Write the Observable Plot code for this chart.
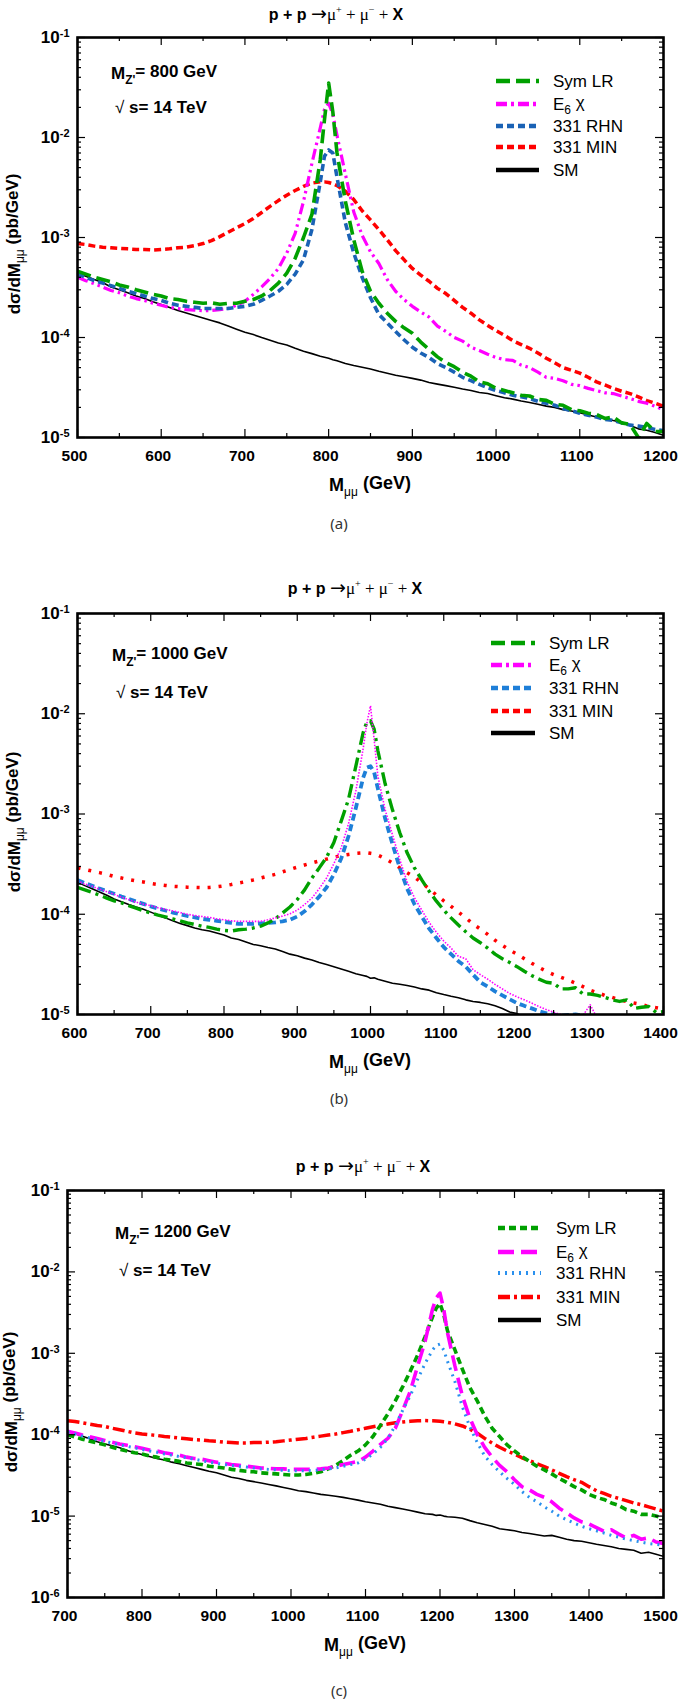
<!DOCTYPE html>
<html><head><meta charset="utf-8">
<script src="https://cdn.jsdelivr.net/npm/d3@7"></script>
<script src="https://cdn.jsdelivr.net/npm/@observablehq/plot@0.6"></script>
<style>
body{margin:0;background:#fff;}
#wrap{position:relative;width:678px;height:1700px;background:#fff;overflow:hidden;}
.title{position:absolute;white-space:nowrap;font-family:"Liberation Sans",Arial,sans-serif;font-size:16px;transform:translate(-50%,-50%);}
.title b{font-weight:bold}
.title .sym{font-family:"Liberation Serif","DejaVu Serif",serif;font-weight:normal;font-size:17px}
.title .arr{font-family:"DejaVu Sans",sans-serif;font-size:19px}
.title sup{font-size:10px}
.cap{position:absolute;font-family:"Noto Sans","DejaVu Sans",sans-serif;font-size:15px;color:#333;transform:translate(-50%,-50%);}
.panel{position:absolute;left:0;}
</style></head><body><div id="wrap"></div>
<script>
// ---------------- DATA ----------------
const seriesLabels = ["Sym LR", "E6 χ", "331 RHN", "331 MIN", "SM"];
const yTickExpA = [1e-1, 1e-2, 1e-3, 1e-4, 1e-5];
const yTickExpC = [1e-1, 1e-2, 1e-3, 1e-4, 1e-5, 1e-6];
const xTicksA = [500, 600, 700, 800, 900, 1000, 1100, 1200];
const xTicksB = [600, 700, 800, 900, 1000, 1100, 1200, 1300, 1400];
const xTicksC = [700, 800, 900, 1000, 1100, 1200, 1300, 1400, 1500];

// Panel (a): M_Z' = 800 GeV
const massA = [500,510,520,530,540,550,560,570,580,590,
 600,610,620,630,640,650,660,670,680,690,
 700,710,720,730,740,750,760,770,780,790,
 795,800,805,
 810,820,830,840,850,860,870,880,890,900,
 910,920,930,940,950,960,970,980,990,1000,
 1010,1020,1030,1040,1050,1060,1070,1080,1090,1100,
 1110,1120,1130,1140,1150,1160,1170,1180,1190,1200];
const symLR_A = [4.6e-4,4.3e-4,4.0e-4,3.8e-4,3.6e-4,3.35e-4,3.2e-4,3.0e-4,2.85e-4,2.7e-4,
 2.6e-4,2.45e-4,2.4e-4,2.3e-4,2.25e-4,2.2e-4,2.22e-4,2.15e-4,2.2e-4,2.2e-4,
 2.3e-4,2.4e-4,2.6e-4,2.95e-4,3.5e-4,4.4e-4,6.2e-4,1.0e-3,1.7e-3,6.0e-3,
 1.5e-2,3.5e-2,1.8e-2,
 7.0e-3,2.3e-3,9.5e-4,4.6e-4,2.9e-4,2.2e-4,1.75e-4,1.45e-4,1.25e-4,1.1e-4,
 9.0e-5,7.6e-5,6.4e-5,5.6e-5,5.1e-5,4.5e-5,4.1e-5,3.6e-5,3.45e-5,3.1e-5,
 2.95e-5,2.8e-5,2.65e-5,2.6e-5,2.4e-5,2.35e-5,2.15e-5,2.1e-5,1.9e-5,1.85e-5,
 1.75e-5,1.7e-5,1.55e-5,1.6e-5,1.4e-5,1.35e-5,1.0e-5,1.38e-5,1.15e-5,1.15e-5];
const e6chi_A = [4.0e-4,3.7e-4,3.45e-4,3.2e-4,2.95e-4,2.8e-4,2.6e-4,2.45e-4,2.34e-4,2.2e-4,
 2.1e-4,2.0e-4,1.95e-4,1.9e-4,1.88e-4,1.85e-4,1.86e-4,1.9e-4,1.95e-4,2.1e-4,
 2.3e-4,2.7e-4,3.2e-4,3.9e-4,4.9e-4,7.0e-4,1.1e-3,2.3e-3,5.5e-3,1.25e-2,
 1.9e-2,2.2e-2,1.7e-2,
 1.05e-2,4.3e-3,1.8e-3,1.05e-3,7.2e-4,5.5e-4,3.8e-4,2.9e-4,2.4e-4,2.05e-4,
 1.8e-4,1.6e-4,1.3e-4,1.15e-4,1.0e-4,9.2e-5,8.0e-5,7.4e-5,6.8e-5,6.3e-5,
 6.0e-5,5.9e-5,5.3e-5,5.0e-5,4.5e-5,4.0e-5,3.9e-5,3.7e-5,3.4e-5,3.3e-5,
 3.1e-5,2.95e-5,2.8e-5,2.75e-5,2.6e-5,2.45e-5,2.3e-5,2.2e-5,2.05e-5,1.9e-5];
const rhn331_A = [4.3e-4,4.0e-4,3.7e-4,3.5e-4,3.3e-4,3.1e-4,2.9e-4,2.75e-4,2.6e-4,2.45e-4,
 2.35e-4,2.2e-4,2.1e-4,2.05e-4,2.0e-4,1.95e-4,1.95e-4,1.95e-4,1.95e-4,2.0e-4,
 2.05e-4,2.15e-4,2.35e-4,2.6e-4,2.9e-4,3.4e-4,4.3e-4,6.0e-4,1.2e-3,3.6e-3,
 6.5e-3,7.5e-3,7.0e-3,
 4.0e-3,1.4e-3,7.0e-4,4.0e-4,2.5e-4,1.7e-4,1.4e-4,1.15e-4,9.5e-5,8.0e-5,
 7.0e-5,6.3e-5,5.5e-5,5.0e-5,4.5e-5,4.0e-5,3.7e-5,3.4e-5,3.15e-5,2.95e-5,
 2.8e-5,2.65e-5,2.55e-5,2.45e-5,2.3e-5,2.2e-5,2.1e-5,1.95e-5,1.85e-5,1.75e-5,
 1.67e-5,1.6e-5,1.52e-5,1.48e-5,1.4e-5,1.33e-5,1.3e-5,1.26e-5,1.2e-5,1.17e-5];
const min331_A = [8.7e-4,8.5e-4,8.2e-4,8.0e-4,7.9e-4,7.8e-4,7.7e-4,7.6e-4,7.6e-4,7.5e-4,
 7.6e-4,7.7e-4,7.9e-4,8.0e-4,8.3e-4,8.7e-4,9.3e-4,1.02e-3,1.13e-3,1.25e-3,
 1.38e-3,1.55e-3,1.78e-3,2.05e-3,2.34e-3,2.65e-3,2.95e-3,3.25e-3,3.5e-3,3.6e-3,
 3.6e-3,3.55e-3,3.45e-3,
 3.3e-3,2.9e-3,2.4e-3,1.85e-3,1.5e-3,1.2e-3,9.5e-4,7.4e-4,6.0e-4,4.9e-4,
 4.2e-4,3.65e-4,3.1e-4,2.75e-4,2.35e-4,2.0e-4,1.75e-4,1.5e-4,1.32e-4,1.17e-4,
 1.05e-4,9.3e-5,8.5e-5,7.8e-5,7.0e-5,6.2e-5,5.6e-5,5.0e-5,4.7e-5,4.4e-5,
 4.0e-5,3.6e-5,3.35e-5,3.1e-5,2.9e-5,2.75e-5,2.55e-5,2.34e-5,2.2e-5,2.05e-5];
const sm_A = [4.4e-4,4.1e-4,3.8e-4,3.55e-4,3.2e-4,3.0e-4,2.8e-4,2.6e-4,2.45e-4,2.28e-4,
 2.14e-4,2.0e-4,1.86e-4,1.76e-4,1.66e-4,1.57e-4,1.48e-4,1.4e-4,1.3e-4,1.21e-4,
 1.13e-4,1.07e-4,1.0e-4,9.4e-5,8.8e-5,8.4e-5,7.8e-5,7.3e-5,6.9e-5,6.5e-5,
 6.35e-5,6.2e-5,6.0e-5,
 5.85e-5,5.5e-5,5.25e-5,5.05e-5,4.85e-5,4.6e-5,4.4e-5,4.2e-5,4.05e-5,3.9e-5,
 3.75e-5,3.55e-5,3.42e-5,3.3e-5,3.18e-5,3.05e-5,2.95e-5,2.82e-5,2.75e-5,2.62e-5,
 2.5e-5,2.42e-5,2.32e-5,2.24e-5,2.15e-5,2.06e-5,2.0e-5,1.9e-5,1.84e-5,1.77e-5,
 1.68e-5,1.6e-5,1.55e-5,1.48e-5,1.42e-5,1.32e-5,1.22e-5,1.18e-5,1.12e-5,1.05e-5];

// Panel (b): M_Z' = 1000 GeV
const massB = [600,610,620,630,640,650,660,670,680,690,
 700,710,720,730,740,750,760,770,780,790,
 800,810,820,830,840,850,860,870,880,890,
 900,910,920,930,940,950,960,970,980,990,
 995,1000,1005,
 1010,1020,1030,1040,1050,1060,1070,1080,1090,1100,
 1110,1120,1130,1140,1150,1160,1170,1180,1190,1200,
 1210,1220,1230,1240,1250,1260,1270,1280,1290,1300,
 1310,1320,1330,1340,1350,1360,1370,1380,1390,1400];
const symLR_B = [1.85e-4,1.75e-4,1.65e-4,1.55e-4,1.45e-4,1.36e-4,1.3e-4,1.22e-4,1.15e-4,1.08e-4,
 1.03e-4,9.8e-5,9.4e-5,9.0e-5,8.6e-5,8.2e-5,7.9e-5,7.6e-5,7.4e-5,7.1e-5,
 6.9e-5,6.8e-5,7.0e-5,7.1e-5,7.3e-5,7.6e-5,8.2e-5,9.0e-5,1.03e-4,1.18e-4,
 1.4e-4,1.75e-4,2.3e-4,2.9e-4,3.7e-4,5.2e-4,8.5e-4,1.4e-3,3.0e-3,6.5e-3,
 8.3e-3,8.5e-3,7.0e-3,
 4.3e-3,2.0e-3,1.1e-3,6.5e-4,4.1e-4,2.9e-4,2.2e-4,1.7e-4,1.35e-4,1.1e-4,
 9.2e-5,7.8e-5,6.7e-5,5.8e-5,5.2e-5,4.6e-5,4.0e-5,3.6e-5,3.3e-5,3.0e-5,
 2.7e-5,2.45e-5,2.25e-5,2.1e-5,2.05e-5,1.8e-5,1.8e-5,1.85e-5,1.6e-5,1.6e-5,
 1.55e-5,1.48e-5,1.4e-5,1.35e-5,1.4e-5,1.15e-5,1.18e-5,1.2e-5,1.05e-5,1.07e-5];
const e6chi_B = [2.15e-4,2.0e-4,1.9e-4,1.78e-4,1.68e-4,1.58e-4,1.48e-4,1.4e-4,1.32e-4,1.26e-4,
 1.22e-4,1.16e-4,1.12e-4,1.08e-4,1.04e-4,1.0e-4,9.7e-5,9.5e-5,9.3e-5,9.0e-5,
 8.8e-5,8.6e-5,8.5e-5,8.5e-5,8.5e-5,8.5e-5,8.8e-5,9.2e-5,9.6e-5,1.01e-4,
 1.1e-4,1.25e-4,1.45e-4,1.8e-4,2.3e-4,3.2e-4,4.6e-4,8.0e-4,1.7e-3,4.5e-3,
 8.0e-3,1.2e-2,5.5e-3,
 2.4e-3,1.1e-3,6.2e-4,3.5e-4,2.1e-4,1.46e-4,1.1e-4,8.3e-5,6.6e-5,5.4e-5,
 4.6e-5,3.8e-5,3.6e-5,2.8e-5,2.5e-5,2.25e-5,2.0e-5,1.8e-5,1.62e-5,1.5e-5,
 1.4e-5,1.3e-5,1.2e-5,1.12e-5,1.05e-5,1.0e-5,9.8e-6,9.7e-6,9.8e-6,1.25e-5,
 9.0e-6,null,null,null,null,null,null,null,null,null];
const rhn331_B = [2.2e-4,2.05e-4,1.92e-4,1.8e-4,1.7e-4,1.6e-4,1.5e-4,1.42e-4,1.34e-4,1.27e-4,
 1.2e-4,1.14e-4,1.09e-4,1.04e-4,1.0e-4,9.6e-5,9.3e-5,9.0e-5,8.8e-5,8.6e-5,
 8.4e-5,8.2e-5,8.0e-5,8.0e-5,8.0e-5,8.1e-5,8.2e-5,8.3e-5,8.5e-5,8.8e-5,
 9.5e-5,1.07e-4,1.25e-4,1.5e-4,1.85e-4,2.5e-4,3.6e-4,6.0e-4,1.15e-3,2.3e-3,
 2.9e-3,3.0e-3,2.6e-3,
 1.8e-3,9.0e-4,5.0e-4,2.9e-4,1.8e-4,1.26e-4,9.5e-5,7.2e-5,5.8e-5,4.7e-5,
 4.0e-5,3.4e-5,3.0e-5,2.5e-5,2.1e-5,1.9e-5,1.7e-5,1.55e-5,1.42e-5,1.3e-5,
 1.22e-5,1.15e-5,1.08e-5,1.03e-5,1.0e-5,9.7e-6,9.9e-6,1.0e-5,9.8e-6,9.5e-6,
 null,null,null,null,null,null,null,null,null,null];
const min331_B = [2.9e-4,2.8e-4,2.7e-4,2.6e-4,2.5e-4,2.38e-4,2.3e-4,2.22e-4,2.15e-4,2.1e-4,
 2.03e-4,1.98e-4,1.94e-4,1.9e-4,1.88e-4,1.86e-4,1.85e-4,1.84e-4,1.85e-4,1.88e-4,
 1.92e-4,1.98e-4,2.05e-4,2.12e-4,2.2e-4,2.3e-4,2.4e-4,2.5e-4,2.65e-4,2.8e-4,
 2.95e-4,3.1e-4,3.25e-4,3.4e-4,3.55e-4,3.7e-4,3.85e-4,3.95e-4,4.05e-4,4.1e-4,
 4.1e-4,4.05e-4,4.0e-4,
 3.9e-4,3.6e-4,3.25e-4,2.9e-4,2.6e-4,2.35e-4,2.05e-4,1.8e-4,1.55e-4,1.36e-4,
 1.2e-4,1.05e-4,9.2e-5,8.0e-5,7.1e-5,6.3e-5,5.5e-5,4.9e-5,4.4e-5,4.0e-5,
 3.6e-5,3.25e-5,2.95e-5,2.7e-5,2.5e-5,2.35e-5,2.2e-5,2.05e-5,1.9e-5,1.75e-5,
 1.65e-5,1.55e-5,1.48e-5,1.4e-5,1.35e-5,1.3e-5,1.26e-5,1.2e-5,1.17e-5,1.13e-5];
const sm_B = [2.08e-4,1.93e-4,1.8e-4,1.67e-4,1.55e-4,1.42e-4,1.33e-4,1.25e-4,1.18e-4,1.12e-4,
 1.05e-4,9.8e-5,9.2e-5,8.6e-5,8.1e-5,7.7e-5,7.3e-5,7.0e-5,6.8e-5,6.5e-5,
 6.2e-5,5.8e-5,5.6e-5,5.3e-5,5.0e-5,4.85e-5,4.65e-5,4.5e-5,4.25e-5,4.0e-5,
 3.85e-5,3.65e-5,3.5e-5,3.3e-5,3.15e-5,3.0e-5,2.85e-5,2.7e-5,2.55e-5,2.45e-5,
 2.4e-5,2.3e-5,2.32e-5,
 2.25e-5,2.15e-5,2.05e-5,2.0e-5,1.95e-5,1.88e-5,1.8e-5,1.75e-5,1.65e-5,1.58e-5,
 1.52e-5,1.47e-5,1.4e-5,1.35e-5,1.32e-5,1.28e-5,1.22e-5,1.15e-5,1.06e-5,1.02e-5,
 9.4e-6,null,null,null,null,null,null,null,null,null,
 null,null,null,null,null,null,null,null,null,null];

// Panel (c): M_Z' = 1200 GeV
const massC = [700,710,720,730,740,750,760,770,780,790,
 800,810,820,830,840,850,860,870,880,890,
 900,910,920,930,940,950,960,970,980,990,
 1000,1010,1020,1030,1040,1050,1060,1070,1080,1090,
 1100,1110,1120,1130,1140,1150,1160,1170,1180,1190,
 1195,1200,1205,
 1210,1220,1230,1240,1250,1260,1270,1280,1290,1300,
 1310,1320,1330,1340,1350,1360,1370,1380,1390,1400,
 1410,1420,1430,1440,1450,1460,1470,1480,1490,1500];
const symLR_C = [1.0e-4,9.4e-5,8.8e-5,8.3e-5,7.9e-5,7.5e-5,7.0e-5,6.6e-5,6.3e-5,6.0e-5,
 5.8e-5,5.5e-5,5.3e-5,5.0e-5,4.85e-5,4.7e-5,4.5e-5,4.4e-5,4.3e-5,4.1e-5,
 4.0e-5,3.9e-5,3.75e-5,3.65e-5,3.55e-5,3.5e-5,3.4e-5,3.35e-5,3.3e-5,3.25e-5,
 3.2e-5,3.2e-5,3.25e-5,3.35e-5,3.5e-5,3.8e-5,4.2e-5,4.8e-5,5.6e-5,6.3e-5,
 7.5e-5,9.5e-5,1.3e-4,1.8e-4,2.6e-4,3.9e-4,6.0e-4,9.5e-4,1.6e-3,2.8e-3,
 3.6e-3,4.1e-3,3.0e-3,
 1.9e-3,1.1e-3,6.4e-4,3.8e-4,2.6e-4,1.7e-4,1.2e-4,9.5e-5,7.5e-5,6.3e-5,
 5.4e-5,4.7e-5,4.1e-5,3.7e-5,3.3e-5,2.9e-5,2.6e-5,2.3e-5,2.1e-5,1.85e-5,
 1.7e-5,1.6e-5,1.45e-5,1.35e-5,1.2e-5,1.15e-5,1.05e-5,1.05e-5,1.0e-5,9.5e-6];
const e6chi_C = [1.1e-4,1.05e-4,9.9e-5,9.4e-5,9.0e-5,8.5e-5,8.1e-5,7.7e-5,7.4e-5,7.1e-5,
 6.8e-5,6.5e-5,6.3e-5,6.0e-5,5.8e-5,5.6e-5,5.3e-5,5.1e-5,5.0e-5,4.8e-5,
 4.6e-5,4.45e-5,4.3e-5,4.2e-5,4.1e-5,4.0e-5,3.9e-5,3.85e-5,3.8e-5,3.8e-5,
 3.75e-5,3.75e-5,3.75e-5,3.75e-5,3.8e-5,3.9e-5,4.1e-5,4.3e-5,4.5e-5,4.7e-5,
 5.3e-5,6.3e-5,7.6e-5,9.0e-5,1.2e-4,2.0e-4,3.4e-4,7.0e-4,1.4e-3,3.5e-3,
 4.8e-3,5.5e-3,3.5e-3,
 1.8e-3,7.0e-4,3.0e-4,1.6e-4,1.0e-4,7.0e-5,5.3e-5,4.2e-5,3.5e-5,2.8e-5,
 2.3e-5,2.1e-5,1.85e-5,1.7e-5,1.5e-5,1.25e-5,1.1e-5,9.5e-6,8.5e-6,8.0e-6,
 7.2e-6,6.5e-6,6.8e-6,6.0e-6,5.4e-6,5.8e-6,5.2e-6,5.4e-6,4.8e-6,4.6e-6];
const rhn331_C = [1.08e-4,1.02e-4,9.6e-5,9.1e-5,8.7e-5,8.3e-5,7.9e-5,7.5e-5,7.2e-5,6.9e-5,
 6.6e-5,6.3e-5,6.1e-5,5.8e-5,5.6e-5,5.4e-5,5.2e-5,5.0e-5,4.8e-5,4.6e-5,
 4.45e-5,4.3e-5,4.2e-5,4.1e-5,4.0e-5,3.9e-5,3.8e-5,3.75e-5,3.7e-5,3.65e-5,
 3.6e-5,3.6e-5,3.6e-5,3.65e-5,3.7e-5,3.8e-5,3.9e-5,4.1e-5,4.3e-5,4.5e-5,
 5.0e-5,5.8e-5,7.0e-5,9.0e-5,1.3e-4,2.0e-4,3.0e-4,4.8e-4,7.5e-4,1.1e-3,
 1.25e-3,1.3e-3,1.1e-3,
 8.0e-4,4.5e-4,2.2e-4,1.25e-4,8.0e-5,5.5e-5,4.3e-5,3.5e-5,2.9e-5,2.45e-5,
 2.0e-5,1.7e-5,1.5e-5,1.3e-5,1.15e-5,1.0e-5,9.0e-6,8.2e-6,7.5e-6,7.0e-6,
 6.6e-6,6.2e-6,5.8e-6,5.5e-6,5.2e-6,5.0e-6,4.8e-6,4.6e-6,4.5e-6,4.4e-6];
const min331_C = [1.48e-4,1.45e-4,1.4e-4,1.35e-4,1.3e-4,1.26e-4,1.2e-4,1.15e-4,1.1e-4,1.05e-4,
 1.02e-4,1.0e-4,9.8e-5,9.5e-5,9.3e-5,9.1e-5,8.9e-5,8.7e-5,8.6e-5,8.4e-5,
 8.3e-5,8.1e-5,8.0e-5,7.9e-5,7.9e-5,8.0e-5,8.0e-5,8.1e-5,8.2e-5,8.4e-5,
 8.6e-5,8.8e-5,9.0e-5,9.3e-5,9.6e-5,9.9e-5,1.02e-4,1.06e-4,1.1e-4,1.15e-4,
 1.2e-4,1.25e-4,1.3e-4,1.35e-4,1.4e-4,1.43e-4,1.46e-4,1.48e-4,1.49e-4,1.48e-4,
 1.47e-4,1.46e-4,1.44e-4,
 1.42e-4,1.36e-4,1.28e-4,1.17e-4,1.04e-4,9.0e-5,7.9e-5,7.0e-5,6.3e-5,5.8e-5,
 5.2e-5,4.8e-5,4.4e-5,4.05e-5,3.7e-5,3.35e-5,3.05e-5,2.8e-5,2.6e-5,2.3e-5,
 2.05e-5,1.9e-5,1.75e-5,1.65e-5,1.55e-5,1.45e-5,1.38e-5,1.3e-5,1.22e-5,1.15e-5];
const sm_C = [1.11e-4,1.03e-4,9.6e-5,8.9e-5,8.2e-5,7.7e-5,7.3e-5,6.9e-5,6.4e-5,6.0e-5,
 5.7e-5,5.4e-5,5.1e-5,4.9e-5,4.6e-5,4.4e-5,4.15e-5,3.95e-5,3.75e-5,3.55e-5,
 3.4e-5,3.2e-5,3.0e-5,2.9e-5,2.75e-5,2.65e-5,2.55e-5,2.45e-5,2.35e-5,2.25e-5,
 2.15e-5,2.05e-5,2.0e-5,1.92e-5,1.85e-5,1.8e-5,1.75e-5,1.7e-5,1.63e-5,1.57e-5,
 1.5e-5,1.45e-5,1.4e-5,1.32e-5,1.27e-5,1.22e-5,1.17e-5,1.12e-5,1.07e-5,1.05e-5,
 1.02e-5,1.03e-5,1.0e-5,
 9.8e-6,9.7e-6,9.4e-6,8.8e-6,8.3e-6,7.9e-6,7.5e-6,7.0e-6,6.8e-6,6.6e-6,
 6.3e-6,6.1e-6,5.9e-6,5.7e-6,5.8e-6,5.5e-6,5.2e-6,5.0e-6,4.9e-6,4.7e-6,
 4.5e-6,4.35e-6,4.2e-6,4.0e-6,3.9e-6,3.8e-6,3.5e-6,3.6e-6,3.4e-6,3.2e-6];

// ---------------- STYLES ----------------
const GREEN = "#00a000", MAG = "#ff00ff", RED = "#ff0000", BLACK = "#000000";
const FONT = '"Liberation Sans", Arial, sans-serif';

const panels = [
  {
    name: "(a)", top: 37, frameH: 400, ml: 77, xDomain: [500, 1200], yDomain: [1e-5, 1e-1],
    x: massA, xTicks: xTicksA, yTicks: yTickExpA, mz: "800",
    titleX: 336, titleY: 13, capY: 523,
    lines: [
      {y: sm_A, color: BLACK, lw: 1.6, dash: null},
      {y: min331_A, color: RED, lw: 3.5, dash: "7,4"},
      {y: e6chi_A, color: MAG, lw: 3.2, dash: "11,4,2.5,4,2.5,4"},
      {y: rhn331_A, color: "#1a62b5", lw: 3.6, dash: "7,4"},
      {y: symLR_A, color: GREEN, lw: 3.6, dash: "14,6"}
    ],
    legend: [
      {color: GREEN, lw: 4.5, dash: "14,6"},
      {color: MAG, lw: 4.5, dash: "11,4,3,4"},
      {color: "#1a62b5", lw: 4.5, dash: "7,4"},
      {color: RED, lw: 4.5, dash: "7,4"},
      {color: BLACK, lw: 4.5, dash: null}
    ],
    legX: [496, 539, 553], legY: [81, 104, 126, 147, 170],
    annX: 111, annY: [73, 107], ylabY: 244
  },
  {
    name: "(b)", top: 613, frameH: 401, ml: 77, xDomain: [600, 1400], yDomain: [1e-5, 1e-1],
    x: massB, xTicks: xTicksB, yTicks: yTickExpA, mz: "1000",
    titleX: 355, titleY: 587, capY: 1098,
    lines: [
      {y: sm_B, color: BLACK, lw: 1.6, dash: null},
      {y: min331_B, color: RED, lw: 3.5, dash: "3,8"},
      {y: rhn331_B, color: "#1e7fd8", lw: 3.8, dash: "7,4"},
      {y: symLR_B, color: GREEN, lw: 3.4, dash: "14,5,3,5"},
      {y: e6chi_B, color: MAG, lw: 1.6, dash: "1.5,1.5"}
    ],
    legend: [
      {color: GREEN, lw: 4.5, dash: "14,6"},
      {color: MAG, lw: 4.5, dash: "11,4,3,4"},
      {color: "#1e7fd8", lw: 4.5, dash: "7,4"},
      {color: RED, lw: 4.5, dash: "7,4"},
      {color: BLACK, lw: 4.5, dash: null}
    ],
    legX: [491, 535, 549], legY: [643, 665, 688, 711, 733],
    annX: 112, annY: [655, 692], ylabY: 822
  },
  {
    name: "(c)", top: 1190, frameH: 407, ml: 67, xDomain: [700, 1500], yDomain: [1e-6, 1e-1],
    x: massC, xTicks: xTicksC, yTicks: yTickExpC, mz: "1200",
    titleX: 363, titleY: 1165, capY: 1690,
    lines: [
      {y: sm_C, color: BLACK, lw: 1.6, dash: null},
      {y: min331_C, color: RED, lw: 3.5, dash: "12,4,3,4"},
      {y: symLR_C, color: GREEN, lw: 3.6, dash: "7,4"},
      {y: e6chi_C, color: MAG, lw: 3.6, dash: "16,7"},
      {y: rhn331_C, color: "#2a90ee", lw: 3, dash: "2,5"}
    ],
    legend: [
      {color: GREEN, lw: 4.5, dash: "7,4"},
      {color: MAG, lw: 4.5, dash: "16,7"},
      {color: "#2a90ee", lw: 4, dash: "2,5"},
      {color: RED, lw: 4.5, dash: "12,4,3,4"},
      {color: BLACK, lw: 4.5, dash: null}
    ],
    legX: [498, 541, 556], legY: [1228, 1252, 1273, 1297, 1320],
    annX: 115, annY: [1233, 1270], ylabY: 1402
  }
];

// ---------------- BUILD ----------------
const wrap = document.getElementById("wrap");
const W = 678, MT = 12, MB = 65, MR = 15;

function minorLog(domain) {
  const lo = Math.round(Math.log10(domain[0])), hi = Math.round(Math.log10(domain[1]));
  const out = [];
  for (let e = lo; e < hi; e++) for (let m = 2; m <= 9; m++) out.push(m * Math.pow(10, e));
  return out;
}
function minorLin(domain, step) {
  const out = [];
  for (let v = domain[0] + step / 2; v < domain[1]; v += step) out.push(v);
  return out;
}

panels.forEach(p => {
  p.lines.forEach(l => { if (l.y.length !== p.x.length) throw new Error(p.name + " length mismatch " + l.y.length + " vs " + p.x.length); });
  const fh = p.frameH, fw = W - p.ml - MR, H = MT + fh + MB;
  const svgTop = p.top - MT;
  const marks = [];
  p.lines.forEach(l => {
    const rows = p.x.map((m, i) => ({m, v: l.y[i]}));
    marks.push(Plot.line(rows, {x: "m", y: "v", stroke: l.color, strokeWidth: l.lw,
      strokeDasharray: l.dash, clip: true, strokeLinejoin: "round", strokeLinecap: "butt"}));
  });
  const xMin = minorLin(p.xDomain, 100);
  const yMin = minorLog(p.yDomain);
  const tk = {stroke: "black", strokeWidth: 1.2};
  marks.push(
    Plot.ruleX(p.xTicks, {...tk, insetTop: fh - 8}),
    Plot.ruleX(p.xTicks, {...tk, insetBottom: fh - 8}),
    Plot.ruleX(xMin, {...tk, insetTop: fh - 4}),
    Plot.ruleX(xMin, {...tk, insetBottom: fh - 4}),
    Plot.ruleY(p.yTicks, {...tk, insetRight: fw - 8}),
    Plot.ruleY(p.yTicks, {...tk, insetLeft: fw - 8}),
    Plot.ruleY(yMin, {...tk, insetRight: fw - 4}),
    Plot.ruleY(yMin, {...tk, insetLeft: fw - 4}),
    Plot.frame({stroke: "black", strokeWidth: 2.6}),
    Plot.axisX(p.xTicks, {anchor: "bottom", tickSize: 0, tickPadding: 12, label: null, dx: -3,
      tickFormat: d => String(d), fontSize: 15.5, fontWeight: "bold"}),
    Plot.axisY(p.yTicks, {anchor: "left", tickSize: 0, tickPadding: 8, label: null,
      tickFormat: d => String(Math.round(Math.log10(d))), fontSize: 17, fontWeight: "bold"})
  );
  const svg = Plot.plot({
    width: W, height: H, marginLeft: p.ml, marginRight: MR, marginTop: MT, marginBottom: MB,
    x: {domain: p.xDomain}, y: {type: "log", domain: p.yDomain},
    style: {fontFamily: FONT, color: "black", background: "white", overflow: "visible"},
    marks
  });
  svg.classList.add("panel");
  svg.style.top = svgTop + "px";
  const S = d3.select(svg);

  // superscript exponents on y tick labels
  S.selectAll('g[aria-label="y-axis tick label"] text').each(function () {
    const e = this.textContent;
    this.textContent = "";
    const t = d3.select(this);
    t.append("tspan").text("10");
    t.append("tspan").attr("dy", "-0.55em").attr("font-size", "11px").text(e);
  });

  // y label
  const yl = S.append("text").attr("transform", `translate(${p.ml === 77 ? 20 : 17},${p.ylabY - svgTop}) rotate(-90)`)
    .attr("text-anchor", "middle").attr("font-size", 17).attr("font-weight", "bold").attr("font-family", FONT);
  yl.append("tspan").text("dσ/dM");
  yl.append("tspan").attr("dy", "0.35em").attr("font-size", 12).attr("font-weight", "normal").text("μμ");
  yl.append("tspan").attr("dy", "-0.35em").text(" (pb/GeV)");

  // x label
  const xl = S.append("text").attr("x", p.ml + fw / 2).attr("y", MT + fh + 48)
    .attr("text-anchor", "middle").attr("dy", "0.35em").attr("font-size", 18).attr("font-weight", "bold").attr("font-family", FONT);
  xl.append("tspan").text("M");
  xl.append("tspan").attr("dy", "0.4em").attr("font-size", 12).attr("font-weight", "normal").text("μμ");
  xl.append("tspan").attr("dy", "-0.4em").text(" (GeV)");

  // annotations
  const a1 = S.append("text").attr("x", p.annX).attr("y", p.annY[0] - svgTop).attr("dy", "0.35em")
    .attr("text-anchor", "start").attr("font-size", 17).attr("font-weight", "bold").attr("font-family", FONT);
  a1.append("tspan").text("M");
  a1.append("tspan").attr("dy", "0.4em").attr("font-size", 12).text("Z'");
  a1.append("tspan").attr("dy", "-0.4em").text("= " + p.mz + " GeV");
  const a2 = S.append("text").attr("x", p.annX + 4).attr("y", p.annY[1] - svgTop).attr("dy", "0.35em")
    .attr("text-anchor", "start").attr("font-size", 17).attr("font-family", FONT);
  a2.append("tspan").attr("font-weight", "normal").text("√ ");
  a2.append("tspan").attr("font-weight", "bold").text("s= 14 TeV");

  // legend
  const g = S.append("g").attr("text-anchor", "start");
  seriesLabels.forEach((lab, i) => {
    const st = p.legend[i];
    const yy = p.legY[i] - svgTop;
    g.append("line").attr("x1", p.legX[0]).attr("x2", p.legX[1]).attr("y1", yy).attr("y2", yy)
      .attr("stroke", st.color).attr("stroke-width", st.lw).attr("stroke-dasharray", st.dash);
    const t = g.append("text").attr("x", p.legX[2]).attr("y", yy).attr("dy", "0.35em")
      .attr("text-anchor", "start").attr("font-size", 17).attr("font-family", FONT);
    if (lab.startsWith("E6")) {
      t.append("tspan").text("E");
      t.append("tspan").attr("dy", "0.35em").attr("font-size", 12).text("6");
      t.append("tspan").attr("dy", "-0.35em").text(" χ");
    } else t.text(lab);
  });

  wrap.appendChild(svg);

  const title = document.createElement("div");
  title.className = "title";
  title.style.left = p.titleX + "px"; title.style.top = p.titleY + "px";
  title.innerHTML = '<b>p + p</b> <span class="arr">→</span><span class="sym">μ<sup>+</sup> + μ<sup>−</sup> + </span><b>X</b>';
  wrap.appendChild(title);

  const cap = document.createElement("div");
  cap.className = "cap";
  cap.style.left = "339px"; cap.style.top = p.capY + "px";
  cap.textContent = p.name;
  wrap.appendChild(cap);
});
</script>
</body></html>
